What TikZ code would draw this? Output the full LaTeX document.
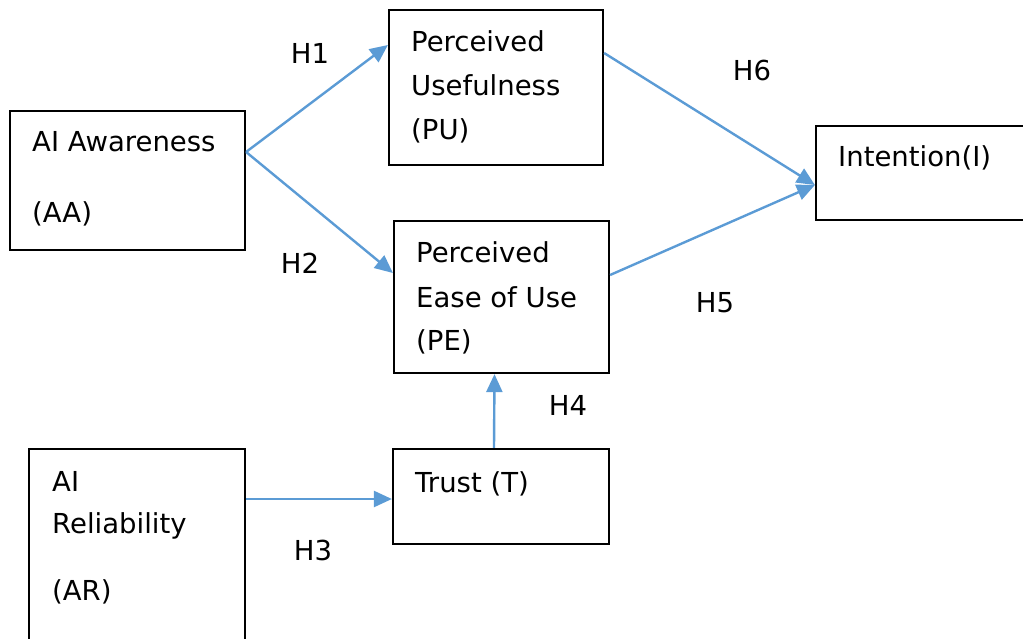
\documentclass[tikz,border=0pt]{standalone}
\usepackage{fontspec}
\setmainfont{DejaVu Sans}
\usetikzlibrary{arrows.meta}
\definecolor{arrowblue}{RGB}{91,155,213}
\tikzset{
  box/.style={draw=black, line width=2.2pt, rectangle, inner sep=0pt},
  txt/.style={anchor=base west, inner sep=0pt, font=\fontsize{27.5}{34}\selectfont},
  hlabel/.style={inner sep=0pt, font=\fontsize{27.5}{34}\selectfont},
  link/.style={draw=arrowblue, line width=2.4pt, -{Triangle[length=18pt,width=16pt]}}
}
\begin{document}
\begin{tikzpicture}[x=1pt,y=-1pt]
\useasboundingbox (0,0) rectangle (1023,639);
\clip (0,0) rectangle (1023,639);
% boxes
\node[box, minimum width=235pt, minimum height=139pt] (aa) at (127.5,180.5) {};
\node[box, minimum width=214pt, minimum height=155pt] (pu) at (496,87.5) {};
\node[box, minimum width=215pt, minimum height=152pt] (pe) at (501.5,297) {};
\node[box, minimum width=220pt, minimum height=94pt] (int) at (926,173) {};
\node[box, minimum width=216pt, minimum height=201pt] (ar) at (137,549.5) {};
\node[box, minimum width=216pt, minimum height=95pt] (tr) at (501,496.5) {};
% texts
\node[txt] (aat1) at (32,152) {AI Awareness};
\node[txt] (aat2) at (32,223) {(AA)};
\node[txt] (put1) at (411,52) {Perceived};
\node[txt] (put2) at (411,96) {Usefulness};
\node[txt] (put3) at (411,140) {(PU)};
\node[txt] (pet1) at (416,262) {Perceived};
\node[txt] (pet2) at (416,307) {Ease of Use};
\node[txt] (pet3) at (416,350) {(PE)};
\node[txt] (intt) at (838,167) {Intention(I)};
\node[txt] (trt) at (415,492) {Trust (T)};
\node[txt] (art1) at (52,491) {AI};
\node[txt] (art2) at (52,533) {Reliability};
\node[txt] (art3) at (52,600) {(AR)};
% labels
\node[hlabel] (h1) at (310,53) {H1};
\node[hlabel] (h2) at (300,263) {H2};
\node[hlabel] (h3) at (313,550) {H3};
\node[hlabel] (h4) at (568,405) {H4};
\node[hlabel] (h5) at (715,303) {H5};
\node[hlabel] (h6) at (752,70) {H6};
% connectors
\draw[link] ([yshift=28.5pt]aa.east) -- ([yshift=42.5pt]pu.west);
\draw[link] ([yshift=28.5pt]aa.east) -- ([yshift=24pt]pe.west);
\draw[link] ([yshift=34.5pt]pu.east) -- ([yshift=-12pt]int.west);
\draw[link] ([yshift=22pt]pe.east) -- ([yshift=-12pt]int.west);
\draw[link] ([xshift=-7pt]tr.north) -- ([xshift=-7pt]pe.south);
\draw[link] ([yshift=50.5pt]ar.east) -- ([yshift=-2.5pt]tr.west);
\end{tikzpicture}
\end{document}
